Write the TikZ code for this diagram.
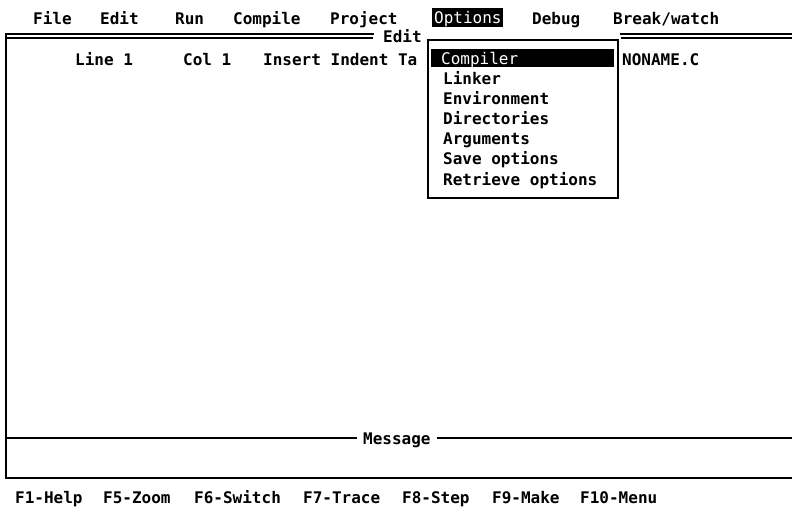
\documentclass[tikz,border=0pt]{standalone}
\usepackage{fontspec}
\setmonofont{DejaVu Sans Mono}
\begin{document}
\begin{tikzpicture}[x=1pt,y=-1pt,
  txt/.style={font=\ttfamily\bfseries\fontsize{16}{16}\selectfont, anchor=base west, inner sep=0pt},
  inv/.style={font=\ttfamily\fontsize{16}{16}\selectfont, anchor=base west, inner sep=0pt, text=white},
  frame/.style={line width=1.8pt, line cap=rect},
  thinframe/.style={line width=1.1pt}]
\useasboundingbox (0,0) rectangle (792,507);
\fill[white] (0,0) rectangle (792,507);
% menu bar
\node[txt] (mfile) at (33,24) {File};
\node[txt] (medit) at (100,24) {Edit};
\node[txt] (mrun) at (175,24) {Run};
\node[txt] (mcomp) at (233,24) {Compile};
\node[txt] (mproj) at (330,24) {Project};
\fill[black] (432,8) rectangle (503,27);
\node[inv] (mopt) at (434,23) {Options};
\node[txt] (mdebug) at (532,24) {Debug};
\node[txt] (mbreak) at (613,24) {Break/watch};
% edit window frame
\coordinate (tl) at (6,34);
\coordinate (tl2) at (6,38);
\coordinate (ta) at (373,34);
\coordinate (ta2) at (373,38);
\coordinate (tb) at (621,34);
\coordinate (tb2) at (621,38);
\coordinate (tr) at (792,34);
\coordinate (tr2) at (792,38);
\coordinate (bl) at (6,478);
\coordinate (br) at (792,478);
\coordinate (ml) at (6,438);
\coordinate (ma) at (356,438);
\coordinate (mb) at (438,438);
\coordinate (mr) at (792,438);
\draw[frame] (tl) -- (ta);
\draw[thinframe] (tl2) -- (ta2);
\draw[frame] (tb) -- (tr);
\draw[thinframe] (tb2) -- (tr2);
\draw[frame] (tl) -- (bl) -- (br);
\draw[frame] (ml) -- (ma);
\draw[frame] (mb) -- (mr);
\node[txt] (etitle) at (383,42) {Edit};
\node[txt] (msg) at (363,444) {Message};
% status line
\node[txt] (sline) at (75,65) {Line 1};
\node[txt] (scol) at (183,65) {Col 1};
\node[txt] (sins) at (263,65) {Insert Indent Ta};
\node[txt] (sfile) at (622,65) {NONAME.C};
% dropdown
\draw[line width=1.6pt, fill=white] (428,40) rectangle (618,198);
\fill[black] (431,49) rectangle (614,67);
\node[inv] (dcomp) at (441,64) {Compiler};
\node[txt] (dlink) at (443,84) {Linker};
\node[txt] (denv) at (443,104) {Environment};
\node[txt] (ddir) at (443,124) {Directories};
\node[txt] (darg) at (443,144) {Arguments};
\node[txt] (dsave) at (443,164) {Save options};
\node[txt] (dret) at (443,185) {Retrieve options};
% function key line
\node[txt] (f1) at (15,503) {F1-Help};
\node[txt] (f5) at (103,503) {F5-Zoom};
\node[txt] (f6) at (194,503) {F6-Switch};
\node[txt] (f7) at (303,503) {F7-Trace};
\node[txt] (f8) at (402,503) {F8-Step};
\node[txt] (f9) at (492,503) {F9-Make};
\node[txt] (f10) at (580,503) {F10-Menu};
\end{tikzpicture}
\end{document}
